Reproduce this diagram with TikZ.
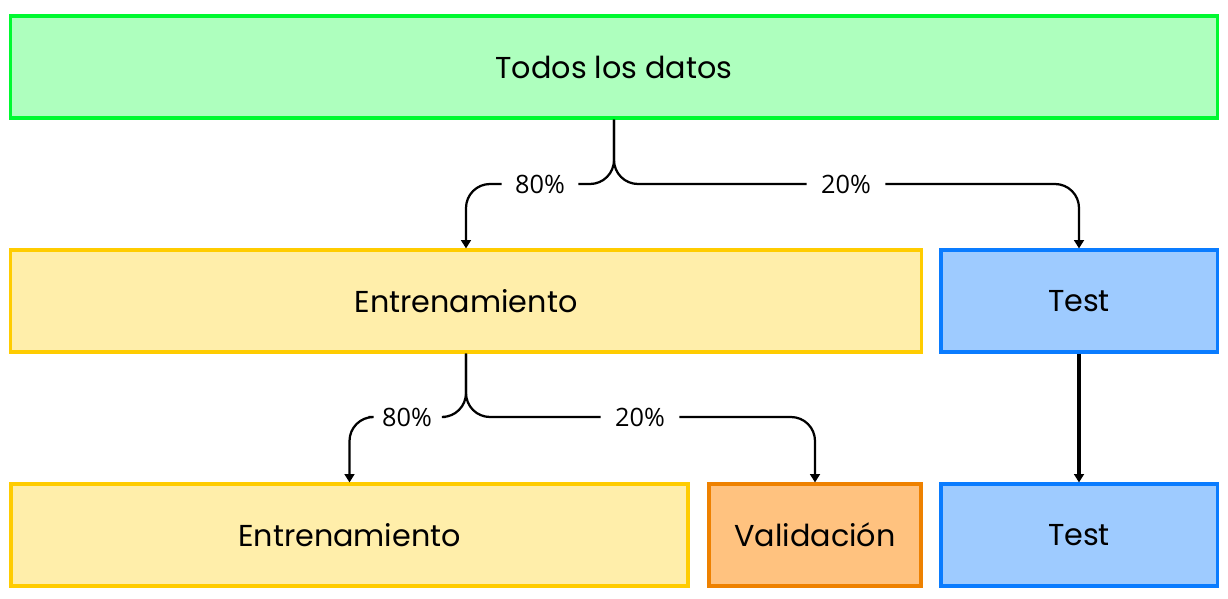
\documentclass[tikz,border=0pt]{standalone}
\usepackage{fontspec}
\setmainfont{Poppins}
\newfontfamily\labelfont{Open Sans}
\usetikzlibrary{arrows.meta}

\definecolor{greenline}{HTML}{00F930}
\definecolor{greenfill}{HTML}{AEFFBE}
\definecolor{yellowline}{HTML}{FFCC00}
\definecolor{yellowfill}{HTML}{FFEEAA}
\definecolor{blueline}{HTML}{0A7CFF}
\definecolor{bluefill}{HTML}{9ECBFF}
\definecolor{orangeline}{HTML}{EE8100}
\definecolor{orangefill}{HTML}{FFC27F}

\tikzset{
  databox/.style={draw, line width=2.2pt, minimum height=2.55cm, inner sep=0pt,
    font=\fontsize{21.5pt}{21.5pt}\selectfont},
  alldata/.style={databox, draw=greenline, fill=greenfill},
  trainbox/.style={databox, draw=yellowline, fill=yellowfill},
  testbox/.style={databox, draw=blueline, fill=bluefill},
  validbox/.style={databox, draw=orangeline, fill=orangefill},
  pct/.style={inner sep=0pt, minimum width=1.9cm, font=\labelfont\fontsize{18pt}{18pt}\selectfont},
  split/.style={line width=1.6pt, rounded corners=0.6cm},
  tip/.style={-{Triangle[width=7pt,length=6pt]}}
}

\begin{document}
\begin{tikzpicture}[x=0.025cm, y=-0.025cm]
  \useasboundingbox (0,0) rectangle (1228,598);
  % boxes, row by row
  \node [alldata, minimum width=30.15cm] (todos) at (614,67) {Todos los datos};
  \node [trainbox, minimum width=22.75cm] (ent1) at (466,301) {Entrenamiento};
  \node [testbox, minimum width=6.9cm] (test1) at (1079,301) {Test};
  \node [trainbox, minimum width=16.92cm] (ent2) at (349.5,535) {Entrenamiento};
  \node [validbox, minimum width=5.3cm] (valid) at (815,535) {Validación};
  \node [testbox, minimum width=6.9cm] (test2) at (1079,535) {Test};
  % percentages
  \node [pct] (pa) at (540,184) {80\%};
  \node [pct, minimum width=1.95cm] (pb) at (846,184) {20\%};
  \node [pct] (pc) at (407,417) {80\%};
  \node [pct, minimum width=1.95cm] (pd) at (640,417) {20\%};
  % first split
  \draw [split] (todos.south) |- (pa.east);
  \draw [split, tip] (pa.west) -| (ent1.north);
  \draw [split] (todos.south) |- (pb.west);
  \draw [split, tip] (pb.east) -| (test1.north);
  % second split
  \draw [split] (ent1.south) |- (pc.east);
  \draw [split, tip] (pc.west) -| (ent2.north);
  \draw [split] (ent1.south) |- (pd.west);
  \draw [split, tip] (pd.east) -| (valid.north);
  % test stays test
  \draw [line width=3pt, tip] (test1.south) -- (test2.north);
\end{tikzpicture}
\end{document}
